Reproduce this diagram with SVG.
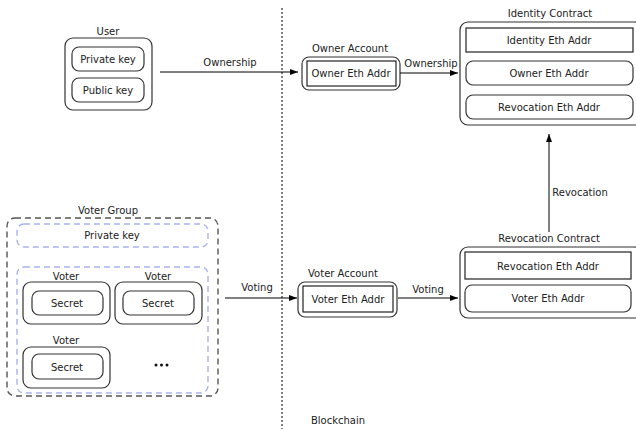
<svg xmlns="http://www.w3.org/2000/svg" width="636" height="429" viewBox="0 0 636 429">
  <defs>
    <marker id="arrow" viewBox="0 0 8 8" refX="8" refY="4" markerWidth="8" markerHeight="8" markerUnits="userSpaceOnUse" orient="auto">
      <path d="M0,1 L8,4 L0,7 z" fill="#000"/>
    </marker>
  </defs>
  <style>
    text { font-family: "DejaVu Sans", "Liberation Sans", sans-serif; font-size: 10px; fill: #222; text-anchor: middle; }
    .outer { fill: #fff; stroke: #333; stroke-width: 1.2; }
    .inner { fill: #fff; stroke: #333; stroke-width: 1.2; }
    .sq { fill: #fff; stroke: #222; stroke-width: 1.2; }
    .group { fill: none; stroke: #555; stroke-width: 1.4; stroke-dasharray: 6 4; }
    .sub { fill: none; stroke: #aab2ee; stroke-width: 1.4; stroke-dasharray: 6 4; }
    .edge { fill: none; stroke: #000; stroke-width: 1; marker-end: url(#arrow); }
    .divider { stroke: #000; stroke-width: 1; stroke-dasharray: 2 2; }
  </style>

  <!-- boundary between off-chain and on-chain -->
  <line class="divider" x1="282" y1="8" x2="282" y2="429"/>
  <text x="338" y="424">Blockchain</text>

  <g id="user">
    <text x="108" y="35">User</text>
    <rect class="outer" x="65" y="38" width="87" height="72" rx="8"/>
    <rect class="inner" x="72" y="47" width="72" height="24" rx="7"/>
    <text x="108" y="63">Private key</text>
    <rect class="inner" x="72" y="78" width="72" height="24" rx="7"/>
    <text x="108" y="94">Public key</text>
  </g>

  <g id="owner-account">
    <text x="350" y="52">Owner Account</text>
    <rect class="outer" x="302" y="57" width="98" height="33" rx="7"/>
    <rect class="sq" x="307" y="61" width="89" height="25"/>
    <text x="351" y="77">Owner Eth Addr</text>
  </g>

  <g id="identity-contract">
    <text x="550" y="17">Identity Contract</text>
    <rect class="outer" x="460" y="22" width="182" height="103" rx="8"/>
    <rect class="sq" x="466" y="28" width="167" height="24"/>
    <text x="549" y="44">Identity Eth Addr</text>
    <rect class="inner" x="466" y="61" width="167" height="24" rx="7"/>
    <text x="549" y="77">Owner Eth Addr</text>
    <rect class="inner" x="466" y="95" width="167" height="24" rx="7"/>
    <text x="549" y="111">Revocation Eth Addr</text>
  </g>

  <g id="voter-account">
    <text x="343" y="277">Voter Account</text>
    <rect class="outer" x="298" y="282" width="99" height="35" rx="7"/>
    <rect class="sq" x="303" y="286" width="90" height="26"/>
    <text x="348" y="303">Voter Eth Addr</text>
  </g>

  <g id="revocation-contract">
    <text x="549" y="242">Revocation Contract</text>
    <rect class="outer" x="460" y="247" width="182" height="71" rx="8"/>
    <rect class="sq" x="465" y="252" width="166" height="27"/>
    <text x="548" y="270">Revocation Eth Addr</text>
    <rect class="inner" x="465" y="285" width="166" height="27" rx="7"/>
    <text x="548" y="302">Voter Eth Addr</text>
  </g>

  <g id="voter-group">
    <text x="108" y="214">Voter Group</text>
    <rect class="group" x="7" y="218" width="211" height="178" rx="8"/>
    <rect class="sub" x="17" y="224" width="191" height="23" rx="7"/>
    <text x="112" y="239">Private key</text>
    <rect class="sub" x="17" y="267" width="191" height="126" rx="7"/>
  </g>

  <g id="voter-1">
    <text x="66" y="280">Voter</text>
    <rect class="outer" x="23" y="282" width="87" height="42" rx="8"/>
    <rect class="inner" x="32" y="291" width="71" height="24" rx="7"/>
    <text x="67" y="307">Secret</text>
  </g>

  <g id="voter-2">
    <text x="158" y="280">Voter</text>
    <rect class="outer" x="115" y="282" width="87" height="42" rx="8"/>
    <rect class="inner" x="123" y="291" width="71" height="24" rx="7"/>
    <text x="158" y="307">Secret</text>
  </g>

  <g id="voter-3">
    <text x="66" y="344">Voter</text>
    <rect class="outer" x="23" y="347" width="87" height="41" rx="8"/>
    <rect class="inner" x="32" y="354" width="71" height="25" rx="7"/>
    <text x="67" y="371">Secret</text>
  </g>

  <g id="more-voters">
    <circle cx="156" cy="365" r="1.5" fill="#111"/>
    <circle cx="161.5" cy="365" r="1.5" fill="#111"/>
    <circle cx="167" cy="365" r="1.5" fill="#111"/>
  </g>

  <g id="connectors">
    <line class="edge" x1="160" y1="72" x2="298" y2="72"/>
    <text x="230" y="66">Ownership</text>
    <line class="edge" x1="400" y1="73" x2="458" y2="73"/>
    <text x="431" y="67">Ownership</text>
    <line class="edge" x1="549" y1="232" x2="549" y2="134"/>
    <text x="580" y="196">Revocation</text>
    <line class="edge" x1="225" y1="298" x2="297" y2="298"/>
    <text x="257" y="291">Voting</text>
    <line class="edge" x1="398" y1="298" x2="458" y2="298"/>
    <text x="428" y="293">Voting</text>
  </g>
</svg>
